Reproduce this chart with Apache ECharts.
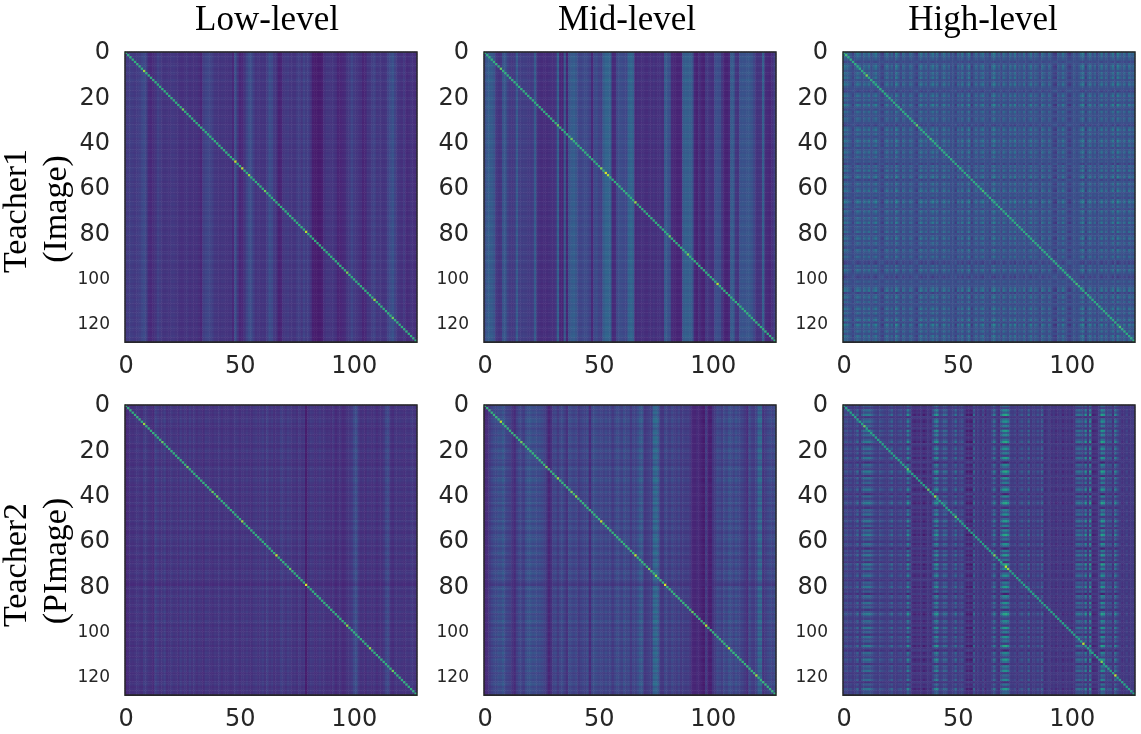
<!DOCTYPE html>
<html>
<head>
<meta charset="utf-8">
<style>
  html, body { margin: 0; padding: 0; background: #fff; }
  #chart, #labels { position: absolute; left: 0; top: 0; width: 1141px; height: 734px; }
  /* the source panels are a resized screenshot, so they are soft */
  #chart { filter: blur(0.55px); }
</style>
</head>
<body>
<div id="chart"></div>
<div id="labels"></div>
<script src="https://cdn.jsdelivr.net/npm/echarts@6/dist/echarts.min.js"></script>
<script>
// the picture is 128x128 per panel, too many cells to read one by one.
// cells are put together from those lists in cellValue below.
const columnTitles = ['Low-level', 'Mid-level', 'High-level'];
const rowTitles = [['Teacher1', '(Image)'], ['Teacher2', '(PImage)']];
const xTicks = [0, 50, 100];
const yTicks = [0, 20, 40, 60, 80, 100, 120];

const lowT1Cols = [17,18,19,18,17,18,19,22,24,20, 12,11,13,15,20,18,16,15,16,15, 17,17,16,15,14,14,15,16,14,15, 14,15,13,10,19,21,22,21,19,16, 16,15,16,16,15,15,16,11,26,16, 10,11,15,21,25,24,19,15,16,15, 16,15,19,25,23,17,15,9,10,16, 17,18,16,16,15,18,19,16,21,18, 19,15,8,7,7,7,8,14,16,16, 15,16,14,10,10,11,12,16,17,22, 18,16,15,14,10,11,16,16,19,21, 16,17,16,15,16,21,24,27,21,16, 15,14,17,12,13,15,14,13];
const midT1Cols = [24,30,32,31,28,16,14,15,28,29, 20,17,16,17,31,19,18,19,18,17, 17,18,31,14,12,11,12,11,12,13, 12,14,33,9,8,30,8,28,31,32, 29,22,21,23,24,23,20,9,23,24, 20,18,31,35,35,33,10,11,22,25, 24,23,22,34,36,33,10,13,12,13, 12,11,13,12,14,12,13,14,12,31, 28,26,10,9,8,8,9,31,33,32, 33,28,9,7,12,8,7,16,15,13, 12,24,25,24,15,8,7,9,31,30, 15,14,27,28,27,28,29,27,22,14, 14,15,33,11,10,9,12,18];
const highT1Cols = [36,31,28,24,17,26,34,29,22,31, 25,33,21,28,35,24,20,15,27,33, 22,29,19,38,26,18,31,24,21,30, 26,20,15,28,34,23,30,19,27,35, 24,31,18,26,33,22,29,20,25,15, 30,23,34,19,27,36,15,24,31,21, 28,34,20,26,17,30,37,22,28,18, 33,25,20,31,23,35,19,27,22,32, 18,26,34,21,29,24,17,32,26,20, 30,23,16,14,28,22,33,25,18,14, 20,26,19,24,31,36,15,27,33,21, 29,18,25,34,22,30,19,26,35,17, 38,28,23,31,20,33,26,29];
const lowT2Cols = [11,13,15,14,15,16,15,14,18,17, 15,14,12,20,17,15,16,19,14,15, 17,15,16,14,18,15,17,14,18,15, 17,14,16,15,13,17,16,15,14,16, 15,17,14,16,15,16,14,15,17,16, 14,16,15,17,15,14,16,17,15,16, 18,15,19,15,17,14,16,15,19,17, 15,18,17,15,16,14,17,15,16,8, 15,17,16,14,15,17,15,16,14,15, 13,16,12,14,15,12,13,15,16,17, 22,24,17,14,15,13,16,15,14,16, 13,15,14,16,21,22,15,13,16,15, 16,15,14,16,15,17,16,15];
const midT2Cols = [9,11,16,20,23,22,25,24,28,22, 20,19,14,10,18,22,21,17,24,26, 27,24,25,23,24,22,20,16,8,12, 20,22,16,21,23,18,13,24,22,20, 23,16,19,21,20,24,10,22,25,23, 21,22,19,23,20,22,16,21,24,22, 19,25,21,23,16,22,20,24,29,28, 15,17,19,18,34,36,30,16,15,22, 20,17,22,19,17,21,16,19,17,18, 15,9,8,10,9,7,5,17,7,6, 14,17,23,21,18,24,20,26,24,20, 25,22,21,19,16,11,24,18,17,21, 33,34,14,18,21,23,20,24];
const highT2Cols = [20,22,18,21,16,19,28,14,24,30, 31,32,27,22,19,17,23,20,18,16, 21,28,17,16,20,23,16,18,38,24, 11,9,12,10,14,8,11,15,10,22, 36,38,18,21,28,26,15,17,19,30, 16,19,23,14,8,9,7,27,13,18, 12,20,10,17,14,21,32,16,12,30, 42,44,38,18,16,20,12,19,23,17, 15,28,14,19,16,22,17,26,11,14, 17,12,15,11,13,16,10,14,12,15, 11,14,28,30,27,20,38,14,40,9, 10,12,20,42,38,18,22,24,12,35, 22,16,12,14,18,13,15,16];

const t1Rows = [16,15,17,16,15,16,17,15,16,17, 15,16,18,16,15,17,16,15,16,15, 17,16,15,16,17,15,16,16,15,17, 16,15,16,17,16,15,16,17,15,16, 17,16,15,16,15,17,16,16,15,16, 15,17,16,15,16,16,17,15,16,15, 17,16,15,17,16,15,16,17,15,16, 16,15,17,16,15,16,17,16,15,16, 17,15,16,16,15,17,16,15,16,17, 15,16,17,16,15,16,16,17,15,16, 16,17,15,16,17,15,16,16,15,17, 16,15,16,17,15,16,17,15,16,16, 15,17,16,15,16,17,15,16];
const highT1Rows = highT1Cols;
const t2Rows = [16,18,15,19,14,17,20,21,15,18, 13,17,19,14,20,18,21,16,13,19, 21,15,18,20,14,17,13,19,21,16, 18,14,20,22,17,13,19,15,21,17, 14,19,16,21,13,18,20,15,17,19, 15,21,14,18,20,16,13,19,17,21, 18,15,20,14,17,21,16,13,19,15, 20,17,14,18,21,15,19,16,13,9, 18,20,15,17,21,14,19,16,20,15, 17,21,14,19,16,22,18,13,20,15, 17,20,14,21,16,18,13,19,15,20, 17,14,21,18,15,19,16,20,14,17, 19,15,18,21,14,17,16,15];
const highT2Rows = [20,17,23,19,26,15,21,24,18,22, 16,25,19,23,17,21,26,15,20,24, 18,22,16,25,19,14,23,20,17,26, 21,15,24,18,22,16,20,25,19,14, 23,17,21,26,18,15,22,19,24,16, 20,25,17,22,15,23,19,26,18,21, 16,24,20,14,22,18,25,17,21,15, 26,19,23,16,20,24,18,15,22,19, 25,17,21,14,23,20,16,24,18,22, 15,21,26,19,17,23,20,16,25,18, 22,15,24,19,21,16,26,18,14,23, 20,17,25,21,15,22,19,24,16,20, 18,23,15,21,17,25,19,20];

const lowT1Dots = [[8,85],[25,78],[48,92],[51,88],[54,84],[61,78],[79,90],[97,80],[109,85],[117,78]];
const midT1Dots = [[7,76],[32,78],[38,78],[51,80],[53,95],[54,88],[66,85],[81,78],[89,80],[102,90]];
const highT1Dots = [[1,70],[10,80],[32,76],[38,70],[61,70],[102,70],[121,72]];
const lowT2Dots = [[8,85],[16,76],[27,78],[38,78],[40,80],[51,85],[66,90],[72,76],[79,95],[97,84],[107,84],[117,78]];
const midT2Dots = [[7,90],[16,78],[27,80],[32,84],[38,80],[40,85],[51,90],[66,90],[72,80],[75,84],[79,95],[91,78],[97,90],[107,90],[119,85]];
const highT2Dots = [[9,76],[28,74],[37,76],[40,85],[49,76],[66,80],[71,90],[72,85],[105,90],[113,80],[119,90]];

const panels = [
  { cols: lowT1Cols, rows: t1Rows, dots: lowT1Dots, base: 16, rowBase: 16, colGain: .9, rowGain: .8, cross: .03, diag: 64 },
  { cols: midT1Cols, rows: t1Rows, dots: midT1Dots, base: 20, rowBase: 16, colGain: .8, rowGain: 1, cross: .03, diag: 64 },
  { cols: highT1Cols, rows: highT1Rows, dots: highT1Dots, base: 27, rowBase: 26, colGain: .5, rowGain: .5, cross: .08, diag: 62 },
  { cols: lowT2Cols, rows: t2Rows, dots: lowT2Dots, base: 15, rowBase: 17, colGain: 1, rowGain: .35, cross: .04, diag: 64 },
  { cols: midT2Cols, rows: t2Rows, dots: midT2Dots, base: 20, rowBase: 17, colGain: .8, rowGain: .55, cross: .05, diag: 66 },
  { cols: highT2Cols, rows: highT2Rows, dots: highT2Dots, base: 20, rowBase: 20, colGain: .6, rowGain: .8, cross: .15, diag: 58 }
];

const viridis = ['#440154', '#482878', '#3e4989', '#31688e', '#26828e', '#1f9e89', '#35b779', '#6ece58', '#b5de2b', '#fde725'];
const gridLefts = [125, 484, 843];
const gridTops = [52, 405];
const gridW = 292;
const gridH = 290;
const labelColor = '#262626';
const tickFont = '"DejaVu Sans", Verdana, sans-serif';
const cats = lowT1Cols.map((v, i) => String(i));

function cellValue(p, row, col) {
  if (row === col) {
    const dot = p.dots.find(d => d[0] === row);
    return dot ? dot[1] : p.diag;
  }
  const c = p.cols[col] - p.base;
  const r = p.rows[row] - p.rowBase;
  return Math.max(1, p.base + p.colGain * c + p.rowGain * r + p.cross * c * r);
}

const grids = [], xAxes = [], yAxes = [], series = [], frames = [];
panels.forEach((p, n) => {
  const left = gridLefts[n % 3];
  const top = gridTops[Math.floor(n / 3)];
  grids.push({ left: left, top: top, width: gridW, height: gridH });
  xAxes.push({
    type: 'category', gridIndex: n, data: cats, position: 'bottom',
    axisLine: { onZero: false, lineStyle: { color: labelColor } },
    axisTick: { alignWithLabel: true, length: 5, interval: i => xTicks.includes(i), lineStyle: { color: labelColor } },
    axisLabel: { interval: i => xTicks.includes(i), fontFamily: tickFont, fontSize: 24, color: labelColor, margin: 13 },
    splitLine: { show: false }
  });
  yAxes.push({
    type: 'category', gridIndex: n, data: cats, inverse: true,
    axisLine: { onZero: false, lineStyle: { color: labelColor } },
    axisTick: { alignWithLabel: true, length: 5, interval: i => yTicks.includes(i), lineStyle: { color: labelColor } },
    axisLabel: {
      interval: i => yTicks.includes(i), fontFamily: tickFont, fontSize: 24, color: labelColor, margin: 15,
      formatter: v => (Number(v) >= 100 ? '{small|' + v + '}' : v),
      rich: { small: { fontFamily: tickFont, fontSize: 17, color: labelColor } }
    },
    splitLine: { show: false }
  });
  const data = [];
  for (let row = 0; row < cats.length; row++) {
    for (let col = 0; col < cats.length; col++) {
      data.push([col, row, cellValue(p, row, col)]);
    }
  }
  series.push({
    type: 'heatmap', xAxisIndex: n, yAxisIndex: n, data: data,
    silent: true, progressive: 0, animation: false
  });
  frames.push({
    type: 'rect', z: 100, silent: true,
    shape: { x: left, y: top, width: gridW, height: gridH },
    style: { fill: 'none', stroke: labelColor, lineWidth: 1.4 }
  });
});

const chart = echarts.init(document.getElementById('chart'), null, { renderer: 'canvas' });
chart.setOption({
  animation: false,
  backgroundColor: '#fff',
  grid: grids,
  xAxis: xAxes,
  yAxis: yAxes,
  tooltip: { show: false },
  visualMap: { type: 'continuous', show: false, min: 0, max: 100, seriesIndex: series.map((s, i) => i), inRange: { color: viridis } },
  series: series,
  graphic: frames
});

// titles stay sharp in the source, so they sit on their own layer above the soft panels
const serif = '"Liberation Serif"';
const titles = columnTitles.map((t, i) => ({
  text: t, left: [262, 622, 978][i], top: -2, textAlign: 'center',
  textStyle: { fontFamily: serif, fontSize: 35, fontWeight: 'normal', color: '#000' }
}));
const sideLabels = [];
rowTitles.forEach((pair, r) => {
  pair.forEach((t, k) => {
    sideLabels.push({
      type: 'text', x: [17, 57][k], y: [[211, 209], [565, 561]][r][k], rotation: Math.PI / 2,
      style: { text: t, fontFamily: serif, fontSize: 34, fill: '#000', align: 'center', verticalAlign: 'middle' }
    });
  });
});
const labelChart = echarts.init(document.getElementById('labels'), null, { renderer: 'canvas' });
labelChart.setOption({ animation: false, title: titles, graphic: sideLabels });
</script>
</body>
</html>
